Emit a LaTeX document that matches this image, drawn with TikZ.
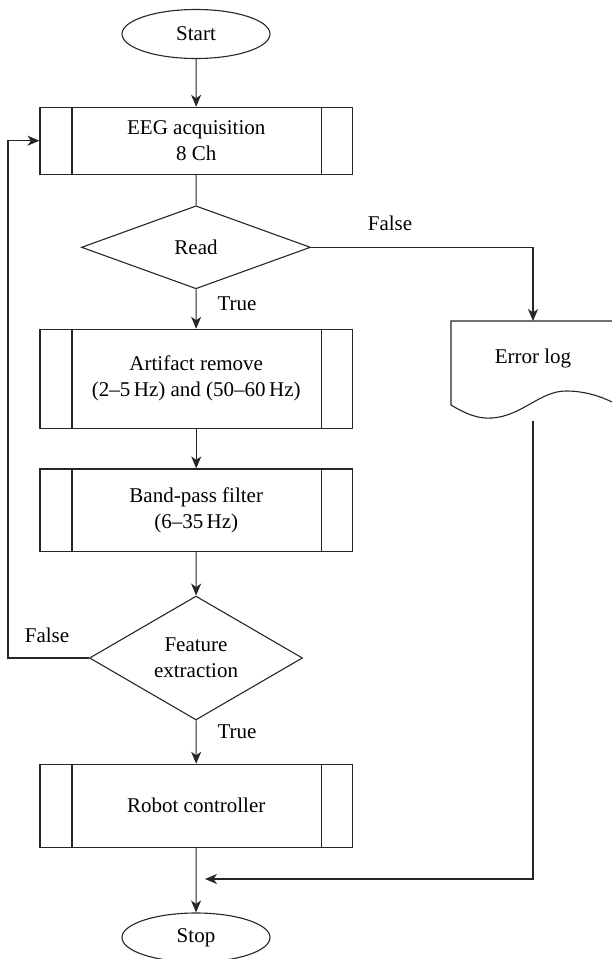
\documentclass[tikz,border=0pt]{standalone}
\usepackage{fontspec}
\setmainfont{Liberation Serif}
\usetikzlibrary{shapes.geometric,arrows.meta}
\begin{document}
\begin{tikzpicture}[x=1pt,y=-1pt,
  every node/.style={font=\fontsize{21}{26}\selectfont, align=center},
  line/.style={line width=1.1pt, black!85},
  arr/.style={line, -{Stealth[length=12pt,width=10pt,inset=3.5pt]}},
  term/.style={ellipse, draw, line width=1.1pt, black!85, text=black, minimum width=148pt, minimum height=49pt, inner sep=0pt},
  proc/.style={rectangle, draw, line width=1.1pt, black!85, text=black, minimum width=312.5pt, inner sep=0pt,
    path picture={\draw[line width=1.1pt, black!85]
      ([xshift=32pt]path picture bounding box.north west) -- ([xshift=32pt]path picture bounding box.south west)
      ([xshift=-31pt]path picture bounding box.north east) -- ([xshift=-31pt]path picture bounding box.south east);}},
  decide/.style={diamond, draw, line width=1.1pt, black!85, text=black, inner sep=0pt},
  lbl/.style={text=black}
]
\useasboundingbox (0,0) rectangle (612,959);

\node[term] (start) at (196,34) {Start};
\node[proc, minimum height=66.7pt] (eeg) at (196.25,140.7) {EEG acquisition\\8 Ch};
\node[decide, minimum width=229pt, minimum height=83pt] (read) at (196,247.3) {Read};
\node[proc, minimum height=99pt] (art) at (196.25,378.8) {Artifact remove\\(2--5\,Hz) and (50--60\,Hz)};
\node[proc, minimum height=82.7pt] (band) at (196.25,510.3) {Band-pass filter\\(6--35\,Hz)};
\node[decide, minimum width=213pt, minimum height=117pt] (feat) at (196,658) {Feature\\extraction};
\node[proc, minimum height=83pt] (robot) at (196.25,805.8) {Robot controller};
\node[term] (stop) at (196,937.5) {Stop};

% error log document shape
\draw[line] (612,321) -- (451,321) -- (451,405)
  .. controls (466,414) and (478,419) .. (492,418)
  .. controls (522,416) and (540,391) .. (566,391)
  .. controls (584,391) and (600,396) .. (612,402);
\node[lbl] (errlog) at (533,358) {Error log};
\coordinate (errtop) at (533,321);
\coordinate (errout) at (533,420.5);
\coordinate (merge) at (205,879);
\coordinate (fb) at (8,0);

% connectors
\draw[arr] (start) -- (eeg);
\draw[line] (eeg) -- (read);
\draw[arr] (read) -- (art);
\draw[arr] (art) -- (band);
\draw[arr] (band) -- (feat);
\draw[arr] (feat) -- (robot);
\draw[arr] (robot) -- (stop);
\draw[arr] (read.east) -| (errtop);
\draw[arr] (feat.west) -- (feat.west -| fb) |- (eeg.west);
\draw[arr] (errout) |- (merge);

% labels
\node[lbl] (f1) at (390,223) {False};
\node[lbl] (t1) at (237,303.5) {True};
\node[lbl] (f2) at (47,635) {False};
\node[lbl] (t2) at (237,732) {True};
\end{tikzpicture}
\end{document}
